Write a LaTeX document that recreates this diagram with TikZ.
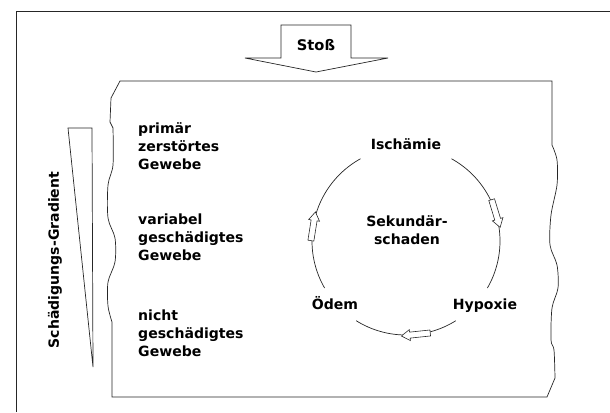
\documentclass[tikz,border=0pt]{standalone}
\usepackage{fontspec}
\setmainfont{DejaVu Sans}
\usetikzlibrary{calc}

\tikzset{
  lbl/.style={font=\bfseries\fontsize{12}{15.3}\selectfont, inner sep=0pt},
  edge/.style={line width=0.6pt, draw=black!85},
  pics/kreispfeil/.style={code={
    \draw[draw=black!85, fill=white, line width=0.5pt]
      (-14.5,-3) -- (6,-3) -- (6,-5.5) -- (14.5,0) -- (6,5.5) -- (6,3) -- (-14.5,3) -- cycle;
  }},
}

\begin{document}
\begin{tikzpicture}[x=0.03cm, y=-0.03cm]
\useasboundingbox (0,0) rectangle (610,412);
\draw[edge] (16,412) -- (16,11) -- (610,11);

% Stoss
\draw[edge] (281,25) -- (351,25) -- (351,58) -- (388,58) -- (316,72)
  -- (245,58) -- (281,58) -- cycle;
\node[lbl, font=\bfseries\fontsize{12.5}{15}\selectfont] (stoss) at (316,45) {Stoß};

% Gewebeblock
\draw[edge] (120,81) -- (552,81) -- (552,145)
  -- plot[smooth] coordinates {(552,145) (557,160) (557,185) (551,215) (550,245)
     (557,265) (558,288) (552,308) (551,340) (554,350) (555,378)}
  -- (547,397) -- (112,397) -- (112,322)
  -- plot[smooth] coordinates {(112,322) (108,306) (108,282) (115,262) (115,238)
     (108,218) (108,185) (113,165) (113,128)}
  -- (110,122) -- (111,98) -- cycle;

% Gradient
\draw[edge] (68,128) -- (92,128) -- (93,367) -- cycle;
\node[lbl, rotate=90] (gradient) at (55,260) {Schädigungs-Gradient};

% base = letzte Zeile
\node[lbl, align=left, anchor=base west] (primaer) at (138,169) {primär\\zerstörtes\\Gewebe};
\node[lbl, align=left, anchor=base west] (variabel) at (138,260) {variabel\\geschädigtes\\Gewebe};
\node[lbl, align=left, anchor=base west] (nicht) at (138,356) {nicht\\geschädigtes\\Gewebe};

% Kreislauf
\coordinate (mitte) at (406,241);
\node[lbl, anchor=base] (isch) at (406,149) {Ischämie};
\node[lbl, anchor=base] (hypox) at (485,309) {Hypoxie};
\node[lbl, anchor=base] (oedem) at (335,309) {Ödem};
\node[lbl, align=center] (sek) at (407,230) {Sekundär-\\schaden};

\draw[edge] ($(mitte)+(-61:94)$) arc[start angle=-61, end angle=30, radius=94];
\draw[edge] ($(mitte)+(58:94)$) arc[start angle=58, end angle=122, radius=94];
\draw[edge] ($(mitte)+(150:94)$) arc[start angle=150, end angle=241, radius=94];

\foreach \a in {-17, 84, 189}
  \pic[rotate=-\a-90] at ($(mitte)+(\a:94)$) {kreispfeil};
\end{tikzpicture}
\end{document}
